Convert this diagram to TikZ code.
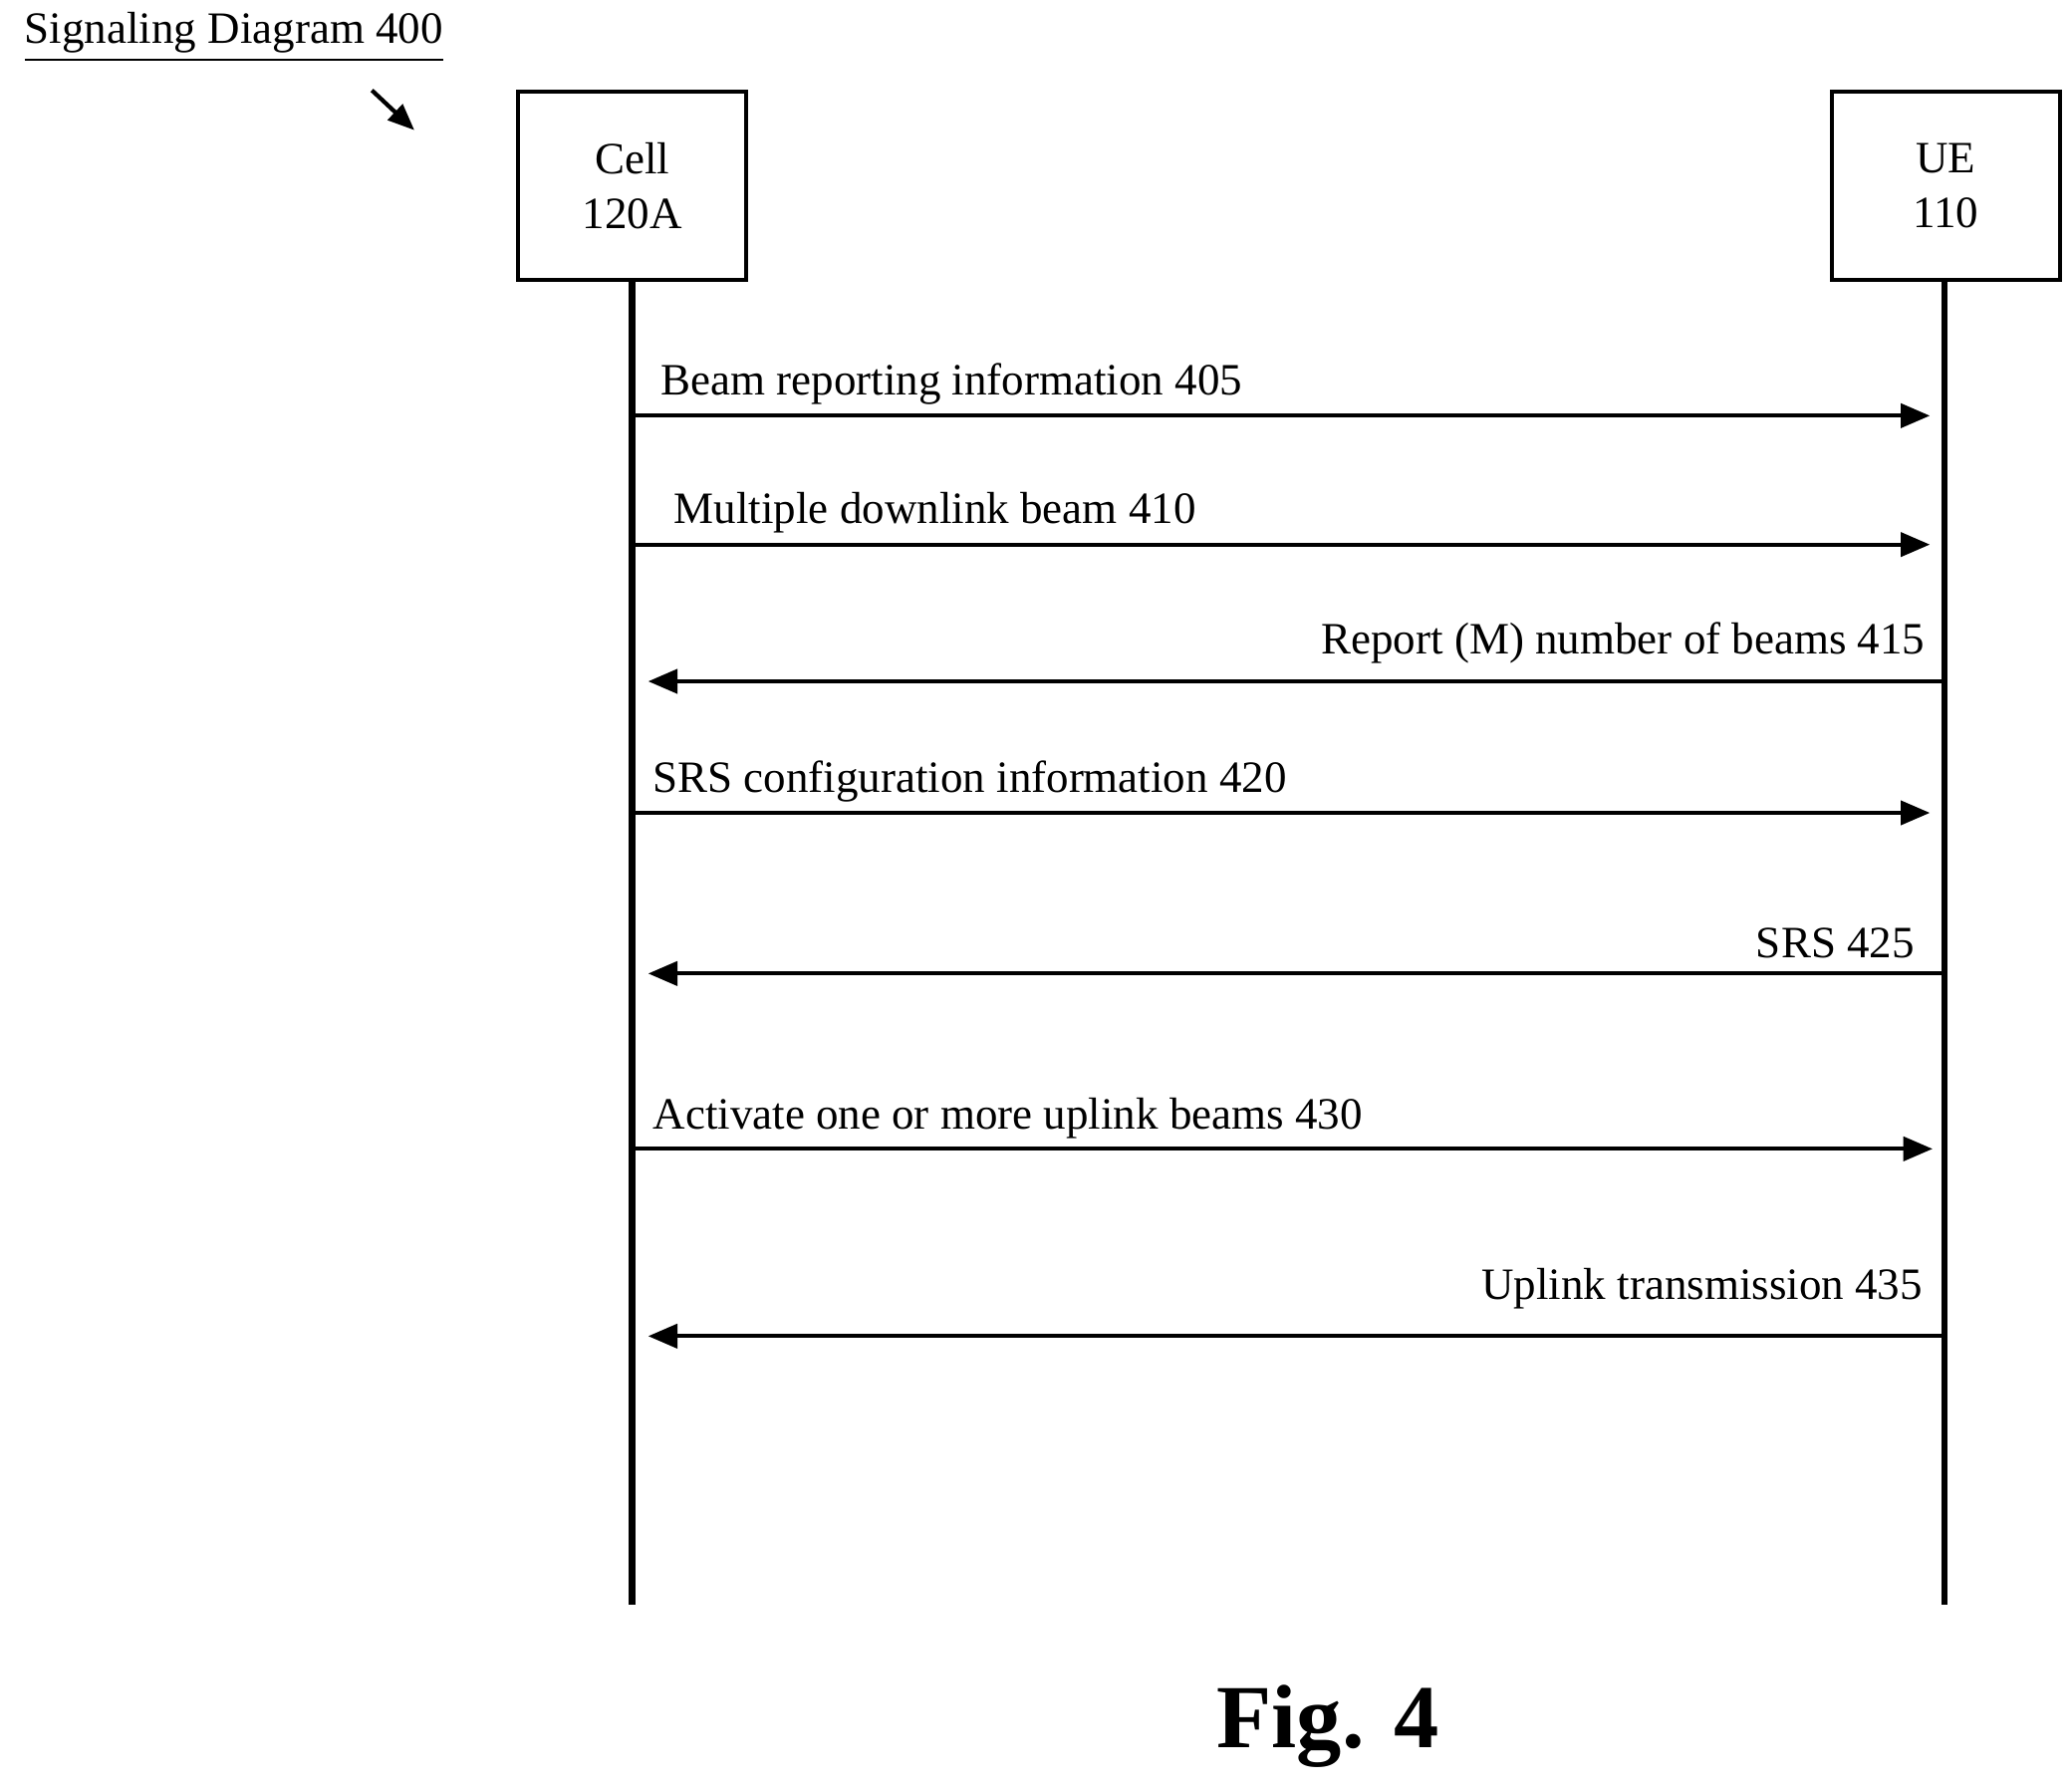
\documentclass[tikz,border=0pt]{standalone}
\usepackage{fontspec}
\setmainfont{Liberation Serif}
\usetikzlibrary{arrows.meta, positioning, calc}

\begin{document}
\begin{tikzpicture}[
  entity/.style={draw, line width=0.9pt, minimum width=1.72cm, minimum height=1.42cm, align=center, font=\fontsize{9.6}{11.6}\selectfont},
  life/.style={line width=1.4pt},
  msg/.style={line width=0.9pt, -{Triangle[length=0.22cm, width=0.18cm]}},
  lbl/.style={font=\fontsize{9.6}{11.6}\selectfont, inner sep=0pt}
]
\useasboundingbox (0,0) rectangle (15.6,-13.48);
%title
\node[lbl, anchor=west] (title) at (0.18,-0.28) {\underline{Signaling Diagram 400}};
\coordinate (p1) at (2.8,-0.68);
\coordinate (p2) at (3.12,-0.98);
\draw[line width=0.9pt, -{Triangle[length=0.2cm, width=0.16cm]}] (p1) -- (p2);

%entities
\node[entity] (cell) at (4.76,-1.40) {Cell\\120A};
\node[entity] (ue) at (14.65,-1.40) {UE\\110};
\coordinate (cellend) at (4.76,-12.08);
\coordinate (ueend) at (14.64,-12.08);
\draw[life] (cell.south) -- (cellend);
\draw[life] (ue.south -| ueend) -- (ueend);

%messages
\foreach \y/\dir/\name in {3.13/r/a, 4.10/r/b, 5.13/l/c, 6.12/r/d, 7.33/l/e, 8.65/r/f, 10.06/l/g}{
  \coordinate (c\name) at (4.76,-\y);
  \coordinate (u\name) at (14.64,-\y);
}
\draw[msg] (ca) -- ($(ua)+(-0.11,0)$);
\draw[msg] (cb) -- ($(ub)+(-0.11,0)$);
\draw[msg] (uc) -- ($(cc)+(0.12,0)$);
\draw[msg] (cd) -- ($(ud)+(-0.11,0)$);
\draw[msg] (ue) -- ($(ce)+(0.12,0)$);
\draw[msg] (cf) -- ($(uf)+(-0.09,0)$);
\draw[msg] (ug) -- ($(cg)+(0.12,0)$);

%labels
\node[lbl, anchor=west] (l405) at (4.97,-2.89) {Beam reporting information 405};
\node[lbl, anchor=west] (l410) at (5.07,-3.86) {Multiple downlink beam 410};
\node[lbl, anchor=east] (l415) at (14.50,-4.84) {Report (M) number of beams 415};
\node[lbl, anchor=west] (l420) at (4.91,-5.88) {SRS configuration information 420};
\node[lbl, anchor=east] (l425) at (14.42,-7.10) {SRS 425};
\node[lbl, anchor=west] (l430) at (4.91,-8.42) {Activate one or more uplink beams 430};
\node[lbl, anchor=east] (l435) at (14.48,-9.70) {Uplink transmission 435};

\node[font=\fontsize{19.3}{22}\selectfont\bfseries, inner sep=0pt] (fig) at (10.0,-13.0) {Fig. 4};
\end{tikzpicture}
\end{document}
